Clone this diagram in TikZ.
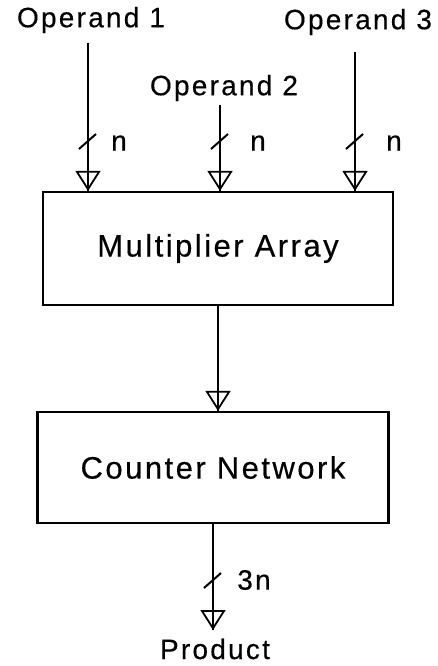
\documentclass[tikz,border=0pt]{standalone}
\usepackage{fontspec}
\setmainfont{Liberation Sans}[LetterSpace=8,FakeBold=0.4]
\usetikzlibrary{arrows.meta,calc}
\begin{document}
\begin{tikzpicture}[x=1pt,y=-1pt,
  lbl/.style={inner sep=0pt, font=\fontsize{28}{32}\selectfont},
  blk/.style={draw, line width=2.2pt, minimum width=350pt, minimum height=113pt, inner sep=0pt, font=\fontsize{31}{35}\selectfont},
  conn/.style={line width=1.8pt, -{Triangle[open,length=20pt,width=25pt,line width=1.8pt]}, postaction={draw, arrows=-}},
  bus/.style={line width=2pt}]
\useasboundingbox (0,0) rectangle (438,666);
% labels
\node[lbl] (o1) at (91,20) {Operand 1};
\node[lbl] (o2) at (224,88) {Operand 2};
\node[lbl] (o3) at (358,22) {Operand 3};
% blocks
\node[blk] (mult) at (218,248.5) {Multiplier Array};
\node[blk, minimum width=351pt, minimum height=111pt] (cnt) at (213,467.5) {Counter Network};
\node[lbl] (prod) at (215,649) {Product};
% start points of the input lines
\coordinate (s1) at (88,43);
\coordinate (s2) at (220,105);
\coordinate (s3) at (355,52);
\coordinate (p) at (213,630);
% connectors
\draw[conn] (s1) -- (s1 |- mult.north);
\draw[conn] (s2) -- (s2 |- mult.north);
\draw[conn] (s3) -- (s3 |- mult.north);
\draw[conn] (mult.south) -- (mult.south |- cnt.north);
\draw[conn] (p |- cnt.south) -- (p);
% bus width marks
\foreach \c/\y in {s1/141, s2/141, s3/141, p/580}{
  \draw[bus] ($(\c |- 0,\y)+(-9,8)$) -- ++(17,-15);
}
\node[lbl] (n1) at (119,143) {n};
\node[lbl] (n2) at (258,143) {n};
\node[lbl] (n3) at (394,143) {n};
\node[lbl] (n4) at (254,580) {3n};
\end{tikzpicture}
\end{document}
